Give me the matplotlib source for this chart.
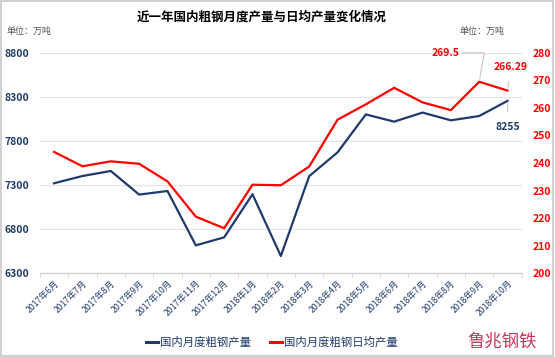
import numpy as np
import matplotlib
matplotlib.use("Agg")
import matplotlib.pyplot as plt
from matplotlib.patches import Rectangle

plt.rcParams["font.family"] = ["Noto Sans CJK SC", "DejaVu Sans"]

# =========================
# DATOS
# =========================
meses = ["2017年6月", "2017年7月", "2017年8月", "2017年9月", "2017年10月",
         "2017年11月", "2017年12月", "2018年1月", "2018年2月", "2018年3月",
         "2018年4月", "2018年5月", "2018年6月", "2018年7月", "2018年8月",
         "2018年9月", "2018年10月"]
produccion = [7320, 7402, 7459, 7191, 7232, 6615, 6706, 7195, 6494, 7400,
              7670, 8101, 8019, 8122, 8034, 8083, 8255]
diaria = [244.0, 238.8, 240.6, 239.7, 233.3, 220.5, 216.3, 232.1, 231.9, 238.7,
          255.7, 261.3, 267.3, 262.0, 259.2, 269.5, 266.29]

azul = "#1f3b6b"
rojo = "#ff0000"

fig = plt.figure(figsize=(5.55, 3.57), dpi=100)
fig.patches.append(Rectangle((0.002, 0.003), 0.995, 0.994, transform=fig.transFigure,
                             fill=False, edgecolor="#c8c8c8", linewidth=1.2))

ax = fig.add_axes([0.072, 0.235, 0.868, 0.617])
ax2 = ax.twinx()

x = np.arange(len(meses))

ax.plot(x, produccion, color=azul, linewidth=1.6, label="国内月度粗钢产量")
ax2.plot(x, diaria, color=rojo, linewidth=1.6, label="国内月度粗钢日均产量")

# =========================
# EJES
# =========================
ax.set_xlim(-0.5, len(meses) - 0.5)
ax.set_ylim(6300, 8800)
ax.set_yticks(np.arange(6300, 8801, 500))
ax2.set_ylim(200, 280)
ax2.set_yticks(np.arange(200, 281, 10))

ax.grid(axis="y", color="#e4e4e4", linewidth=0.9)
ax.set_axisbelow(True)

for a in (ax, ax2):
    for s in ["top", "left", "right"]:
        a.spines[s].set_visible(False)
    a.spines["bottom"].set_color("#d0d0d0")

ax.tick_params(axis="y", length=0, labelsize=7.5, labelcolor=azul, pad=8)
ax2.tick_params(axis="y", length=0, labelsize=7.5, labelcolor=rojo, pad=8)
for t in ax.get_yticklabels():
    t.set_fontweight("bold")
for t in ax2.get_yticklabels():
    t.set_fontweight("bold")

ax.set_xticks(x)
ax.set_xticklabels(meses, rotation=45, ha="right", rotation_mode="anchor",
                   fontsize=6.3, color=azul)
ax.tick_params(axis="x", length=0, pad=4)
ax.set_xticks(np.arange(-0.5, len(meses), 1), minor=True)
ax.tick_params(axis="x", which="minor", length=3, color="#d0d0d0")

# =========================
# ETIQUETAS
# =========================
ax2.annotate("269.5", xy=(15, diaria[15]), xytext=(14.3, 280),
             color=rojo, fontsize=7.5, fontweight="bold", ha="right", va="center",
             arrowprops=dict(arrowstyle="-", color="#c8c8c8", lw=0.8,
                             shrinkA=0, shrinkB=2, relpos=(1.0, 0.5),
                             connectionstyle="angle,angleA=0,angleB=80,rad=0"))
ax2.annotate("266.29", xy=(16, diaria[16]), xytext=(16.1, 275),
             color=rojo, fontsize=7.5, fontweight="bold", ha="center", va="center",
             arrowprops=dict(arrowstyle="-", color="#c8c8c8", lw=0.8,
                             shrinkA=5, shrinkB=2))
ax.annotate("8255", xy=(16, produccion[16]), xytext=(16.0, 7960),
            color=azul, fontsize=7.5, fontweight="bold", ha="center", va="center",
            arrowprops=dict(arrowstyle="-", color="#c8c8c8", lw=0.8,
                            shrinkA=5, shrinkB=2))

# =========================
# TEXTOS
# =========================
fig.text(0.471, 0.952, "近一年国内粗钢月度产量与日均产量变化情况",
         ha="center", va="center", fontsize=9, fontweight="bold")
fig.text(0.012, 0.912, "单位：万吨", ha="left", va="center", fontsize=6.5, color="#555555")
fig.text(0.828, 0.912, "单位：万吨", ha="left", va="center", fontsize=6.5, color="#555555")

h1, l1 = ax.get_legend_handles_labels()
h2, l2 = ax2.get_legend_handles_labels()
leg = fig.legend(h1 + h2, l1 + l2, loc="center", bbox_to_anchor=(0.49, 0.042),
                 ncol=2, frameon=False, fontsize=8.2, handlelength=1.1,
                 handletextpad=0.2, columnspacing=1.6, labelcolor=azul)
for linea in leg.get_lines():
    linea.set_linewidth(2.2)

fig.text(0.968, 0.042, "鲁兆钢铁", ha="right", va="center", fontsize=12.5,
         color="#c8375a")

plt.savefig("out.png", dpi=100)
plt.close()
